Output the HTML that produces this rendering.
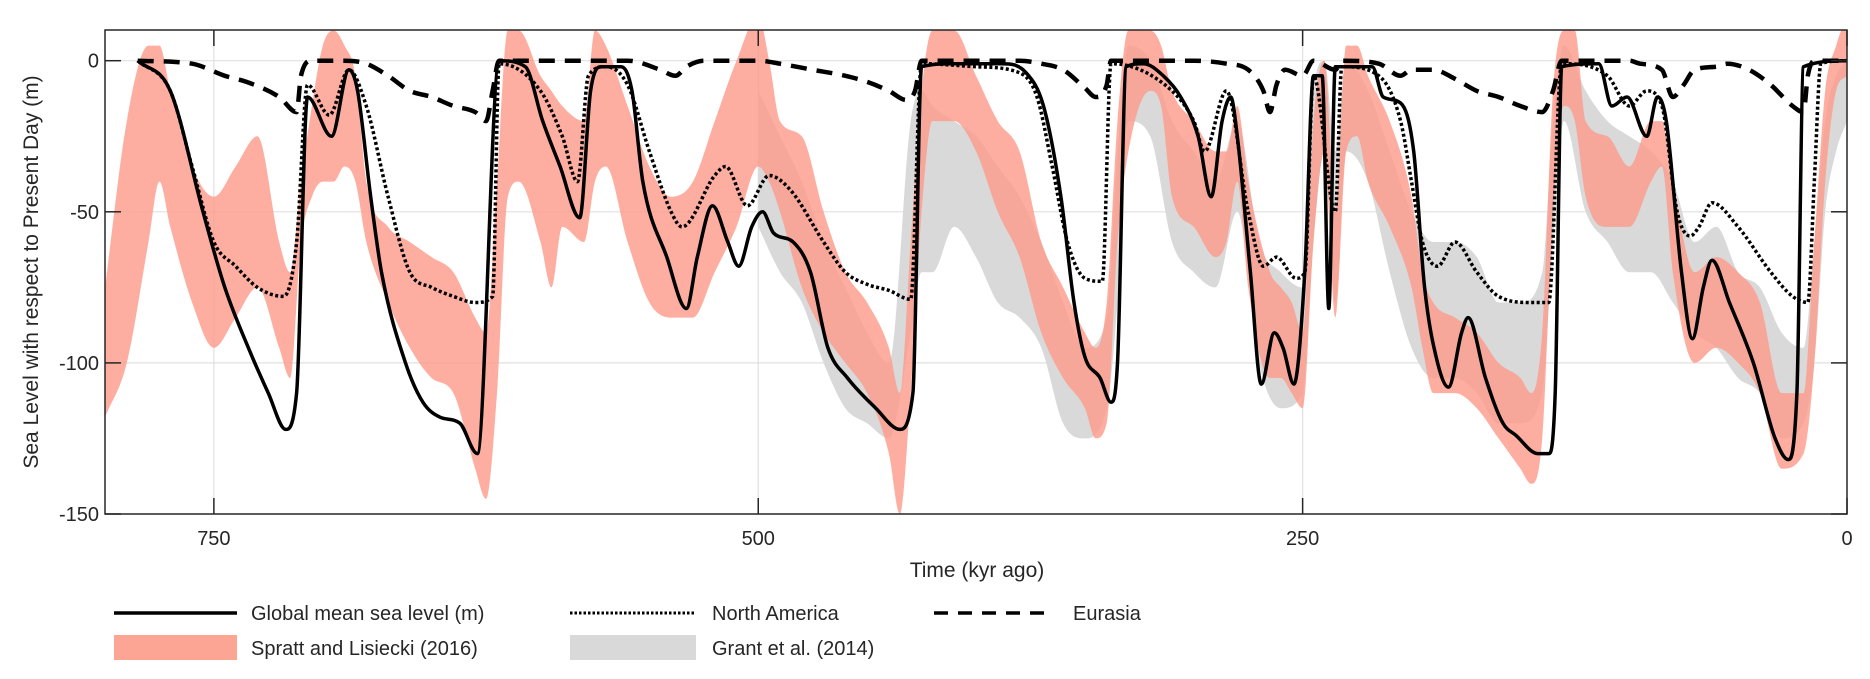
<!DOCTYPE html>
<html><head><meta charset="utf-8"><style>
html,body{margin:0;padding:0;background:#fff;width:1870px;height:679px;overflow:hidden}
svg text{font-family:"Liberation Sans",sans-serif;fill:#262626}
</style></head><body>
<svg id="chart" width="1870" height="679" viewBox="0 0 1870 679" xmlns="http://www.w3.org/2000/svg">
<defs><clipPath id="clip"><rect x="105" y="30" width="1742" height="484"/></clipPath></defs>
<g id="grid"></g>
<g id="series" clip-path="url(#clip)"></g>
<g id="axes"></g>
<text x="0" y="0" font-size="21" text-anchor="middle" transform="translate(38,272) rotate(-90)">Sea Level with respect to Present Day (m)</text>
<text x="977" y="577" font-size="21" text-anchor="middle">Time (kyr ago)</text>
<g>
<g><line x1="114" y1="613" x2="237" y2="613" stroke="#000" stroke-width="3.5"/><text x="251" y="620" font-size="20">Global mean sea level (m)</text></g>
<g><line x1="570" y1="613" x2="696" y2="613" stroke="#000" stroke-width="3" stroke-dasharray="2.5,2"/><text x="712" y="620" font-size="20">North America</text></g>
<g><line x1="934" y1="613" x2="1050" y2="613" stroke="#000" stroke-width="3.5" stroke-dasharray="14,10"/><text x="1073" y="620" font-size="20">Eurasia</text></g>
<g><rect x="114" y="635" width="123" height="25" fill="#fca595"/><text x="251" y="655" font-size="20">Spratt and Lisiecki (2016)</text></g>
<g><rect x="570" y="635" width="126" height="25" fill="#d9d9d9"/><text x="712" y="655" font-size="20">Grant et al. (2014)</text></g>
</g>
</svg>
<script>
const xTicks=[750,500,250,0];
const yTicks=[0,-50,-100,-150];
const globalT=[785,770,755,745,733,725,717,712,707,696,688,684,678,673,662,654,646,637,629,619,607,599,591,582,577,572,563,558,553,542,533,528,521,514,509,503,498,493,484,476,468,459,446,435,429,425,410,388,377,369,361,355,350,343,338,335,331,323,314,306,298,292,287,283,280,274,269,263,259,254,249,245,241,238,235,218,213,205,199,194,188,183,177,174,166,158,152,142,137,134,131,114,108,101,92,87,83,76,71,66,62,54,43,33,27,23,20,0];
const globalV=[0,-10,-50,-75,-97,-110,-122,-110,-12,-25,-3,-10,-45,-70,-100,-113,-118,-120,-130,0,-2,-20,-35,-52,-10,-2,-2,-10,-40,-65,-82,-65,-48,-60,-68,-55,-50,-57,-60,-70,-95,-105,-115,-122,-110,-2,-1,-1,-4,-15,-45,-80,-98,-105,-113,-100,-2,-1,-5,-12,-25,-45,-20,-12,-25,-70,-107,-90,-95,-107,-70,-5,-5,-82,-2,-2,-12,-14,-30,-75,-100,-108,-90,-85,-105,-120,-124,-130,-130,-110,-2,-1,-15,-12,-25,-12,-20,-70,-92,-75,-66,-80,-100,-125,-132,-110,-2,0];
const naT=[785,770,760,750,740,730,718,712,707,697,688,680,670,660,650,640,630,622,619,600,590,583,578,570,560,550,540,535,520,515,505,495,485,470,460,450,440,430,425,400,380,372,365,358,350,342,338,310,300,295,285,275,268,262,253,249,245,235,232,215,205,200,195,188,180,170,160,145,137,131,110,100,92,85,78,72,68,62,50,35,25,18,15,12,0];
const naV=[0,-10,-35,-60,-68,-75,-78,-60,-8,-18,-3,-15,-45,-70,-75,-78,-80,-78,-1,-10,-25,-40,-5,-2,-8,-30,-50,-55,-38,-35,-48,-38,-43,-60,-70,-74,-76,-79,-1,-2,-4,-12,-35,-60,-72,-73,-1,-10,-20,-30,-10,-50,-68,-65,-72,-70,-5,-50,-2,-5,-20,-40,-60,-68,-60,-70,-78,-80,-80,-1,-5,-15,-10,-15,-50,-58,-55,-47,-55,-70,-78,-80,-40,-1,0];
const euT=[785,760,745,735,720,712,710,705,690,680,670,660,650,640,630,625,622,619,575,560,545,538,533,525,500,490,475,460,450,440,432,428,425,380,370,360,350,345,340,338,300,285,275,268,265,262,258,250,245,235,232,215,205,200,190,180,170,160,150,140,135,131,115,100,95,85,80,75,70,60,55,45,35,25,20,18,15,0];
const euV=[0,-1,-5,-7,-12,-17,-5,0,0,-1,-5,-10,-12,-15,-17,-20,-10,0,0,0,-3,-5,-2,0,0,-1,-3,-5,-7,-10,-13,-10,0,0,-1,-3,-9,-12,-8,0,0,-1,-3,-10,-17,-8,-3,-5,0,-3,0,-1,-5,-3,-3,-6,-10,-12,-15,-17,-10,0,0,0,-1,-3,-12,-8,-3,-2,-1,-3,-8,-15,-17,-5,0,0];
const sprattT=[800,790,780,775,770,760,750,740,730,720,715,710,705,700,695,690,685,680,670,660,650,640,630,625,620,615,610,600,595,590,580,575,570,560,550,540,530,520,510,500,495,490,480,470,460,450,440,435,430,425,420,410,400,390,380,370,360,350,345,340,335,330,320,315,310,300,290,285,280,275,265,260,255,250,245,240,235,230,225,220,210,200,195,190,180,170,160,150,145,140,135,130,125,120,110,100,90,85,80,70,60,50,40,30,20,15,10,5,0];
const sprattHi=[-75,-20,5,5,-10,-35,-45,-35,-25,-60,-70,-40,-15,5,10,5,-5,-40,-55,-60,-65,-70,-85,-90,-40,10,10,-5,-10,-15,-20,10,5,-15,-35,-45,-40,-20,0,15,0,-20,-25,-50,-70,-80,-95,-110,-60,-10,10,10,-5,-20,-30,-60,-75,-90,-95,-80,-20,10,10,5,-10,-20,-30,-30,-15,-40,-70,-75,-80,-90,-20,0,-50,5,5,-5,-20,-45,-70,-80,-85,-90,-100,-105,-110,-90,-10,10,10,-20,-25,-35,-20,-20,-40,-70,-65,-70,-80,-110,-110,-60,-10,5,15];
const sprattLo=[-118,-100,-60,-40,-55,-80,-95,-85,-75,-95,-105,-60,-45,-40,-40,-35,-40,-60,-80,-95,-105,-110,-135,-145,-110,-45,-40,-60,-75,-55,-60,-40,-35,-60,-80,-85,-85,-70,-55,-35,-40,-50,-75,-90,-100,-110,-130,-150,-110,-50,-20,-20,-30,-50,-65,-90,-105,-115,-125,-120,-60,-30,-10,-15,-45,-55,-65,-60,-40,-75,-105,-105,-110,-115,-60,-30,-85,-30,-25,-40,-55,-75,-95,-110,-110,-115,-125,-135,-140,-125,-50,-15,-20,-45,-55,-55,-40,-35,-70,-100,-95,-100,-110,-135,-130,-100,-40,-10,-5];
const grantT=[500,490,480,470,460,450,440,430,425,420,410,400,390,380,370,360,350,340,335,330,320,310,300,290,280,270,260,250,245,240,235,230,220,210,200,190,180,170,160,150,140,135,130,120,110,100,90,80,70,60,50,40,30,20,15,10,5,0];
const grantHi=[-10,-25,-40,-60,-75,-90,-100,-20,-10,-15,-20,-25,-35,-45,-60,-80,-95,-85,-30,5,0,-20,-30,-40,-20,-60,-70,-75,-10,0,-30,0,-10,-30,-50,-60,-60,-65,-80,-80,-70,-20,5,-10,-20,-25,-30,-40,-60,-55,-70,-75,-90,-95,-60,-20,-5,0];
const grantLo=[-55,-70,-80,-100,-115,-120,-125,-90,-70,-70,-55,-65,-80,-85,-95,-120,-125,-115,-80,-20,-25,-60,-70,-75,-50,-100,-115,-110,-60,-30,-80,-30,-40,-70,-95,-105,-105,-110,-120,-120,-110,-60,-20,-50,-60,-70,-70,-80,-90,-95,-105,-110,-125,-120,-100,-50,-30,-20];

const X0=105,X1=1847,Y0=30,Y1=514;
function xs(t){return X1-(t/800)*(X1-X0);}
function yv(v){return 60.7+(-v)*(514-60.7)/150;}
const NS='http://www.w3.org/2000/svg';
// monotone cubic (Fritsch-Carlson) path through points, x strictly monotone
function mono(pts){
  const n=pts.length;
  const dx=[],m=[],s=[];
  for(let i=0;i<n-1;i++){dx[i]=pts[i+1][0]-pts[i][0];s[i]=(pts[i+1][1]-pts[i][1])/dx[i];}
  m[0]=s[0];m[n-1]=s[n-2];
  for(let i=1;i<n-1;i++){m[i]=(s[i-1]*s[i]<=0)?0:(s[i-1]+s[i])/2;}
  for(let i=0;i<n-1;i++){
    if(s[i]===0){m[i]=0;m[i+1]=0;continue;}
    const a=m[i]/s[i],b=m[i+1]/s[i],h=a*a+b*b;
    if(h>9){const t=3/Math.sqrt(h);m[i]=t*a*s[i];m[i+1]=t*b*s[i];}
  }
  let d='M'+pts[0][0].toFixed(1)+','+pts[0][1].toFixed(1);
  for(let i=0;i<n-1;i++){
    const h=dx[i]/3;
    d+='C'+(pts[i][0]+h).toFixed(1)+','+(pts[i][1]+m[i]*h).toFixed(1)+' '+(pts[i+1][0]-h).toFixed(1)+','+(pts[i+1][1]-m[i+1]*h).toFixed(1)+' '+pts[i+1][0].toFixed(1)+','+pts[i+1][1].toFixed(1);
  }
  return d;
}
function linePts(T,V){return T.map((t,i)=>[xs(t),yv(V[i])]);}
const series=document.getElementById('series');
function band(T,H,L,fill,op,name){
  const top=mono(linePts(T,H));
  const lo=linePts(T,L);
  const last=lo[lo.length-1];
  const bot=mono(lo);
  // reverse the lower curve by drawing it separately then combining via two paths
  const p=document.createElementNS(NS,'path');
  // build closed shape: top forward, then line to lower end, lower reversed
  const rev=lo.slice().reverse().map(q=>[-q[0],q[1]]);
  const revD=mono(rev).replace(/-?\d+\.?\d*,-?\d+\.?\d*/g,function(pair){const [a,b]=pair.split(',');return (-parseFloat(a)).toFixed(1)+','+b;});
  p.setAttribute('d',top+'L'+last[0].toFixed(1)+','+last[1].toFixed(1)+revD.replace(/^M[^C]*/,'')+'Z');
  p.setAttribute('fill',fill);p.setAttribute('fill-opacity',op);
  
  
  series.appendChild(p);
}
band(grantT,grantHi,grantLo,'#d9d9d9',1,'grant-band');
band(sprattT,sprattHi,sprattLo,'#fc9a88',0.8,'spratt-band');
const grid=document.getElementById('grid');
[750,500,250].forEach(t=>{const l=document.createElementNS(NS,'line');l.setAttribute('x1',xs(t));l.setAttribute('x2',xs(t));l.setAttribute('y1',Y0);l.setAttribute('y2',Y1);l.setAttribute('stroke','#e0e0e0');l.setAttribute('stroke-width','1.2');


grid.appendChild(l);});
[0,-50,-100].forEach(v=>{const l=document.createElementNS(NS,'line');l.setAttribute('x1',X0);l.setAttribute('x2',X1);l.setAttribute('y1',yv(v));l.setAttribute('y2',yv(v));l.setAttribute('stroke','#e0e0e0');l.setAttribute('stroke-width','1.2');


grid.appendChild(l);});
function line(T,V,w,dash,name){
  const p=document.createElementNS(NS,'path');
  p.setAttribute('d',mono(linePts(T,V)));
  p.setAttribute('fill','none');p.setAttribute('stroke','#000');p.setAttribute('stroke-width',w);
  p.setAttribute('stroke-linejoin','round');
  if(dash)p.setAttribute('stroke-dasharray',dash);
  
  
  series.appendChild(p);
}
line(euT,euV,4.5,'16,10','eurasia-line');
line(naT,naV,3.5,'3,2.5','north-america-line');
line(globalT,globalV,3.5,null,'global-mean-line');
const axes=document.getElementById('axes');
const box=document.createElementNS(NS,'rect');
box.setAttribute('x',X0);box.setAttribute('y',Y0);box.setAttribute('width',X1-X0);box.setAttribute('height',Y1-Y0);
box.setAttribute('fill','none');box.setAttribute('stroke','#262626');box.setAttribute('stroke-width','1.5');


axes.appendChild(box);
xTicks.forEach(t=>{
  const x=xs(t);
  [[Y1,Y1-16],[Y0,Y0+16]].forEach(([a,b])=>{const l=document.createElementNS(NS,'line');l.setAttribute('x1',x);l.setAttribute('x2',x);l.setAttribute('y1',a);l.setAttribute('y2',b);l.setAttribute('stroke','#262626');l.setAttribute('stroke-width','1.5');
  
  
  axes.appendChild(l);});
  const tx=document.createElementNS(NS,'text');tx.setAttribute('x',x);tx.setAttribute('y',545);tx.setAttribute('font-size','20');tx.setAttribute('text-anchor','middle');tx.textContent=String(t);
  
  
  axes.appendChild(tx);
});
yTicks.forEach(v=>{
  const y=yv(v);
  [[X0,X0+16],[X1,X1-16]].forEach(([a,b])=>{const l=document.createElementNS(NS,'line');l.setAttribute('x1',a);l.setAttribute('x2',b);l.setAttribute('y1',y);l.setAttribute('y2',y);l.setAttribute('stroke','#262626');l.setAttribute('stroke-width','1.5');
  
  
  axes.appendChild(l);});
  const tx=document.createElementNS(NS,'text');tx.setAttribute('x',99);tx.setAttribute('y',y+7);tx.setAttribute('font-size','20');tx.setAttribute('text-anchor','end');tx.textContent=String(v);
  
  
  axes.appendChild(tx);
});
</script>
</body></html>
